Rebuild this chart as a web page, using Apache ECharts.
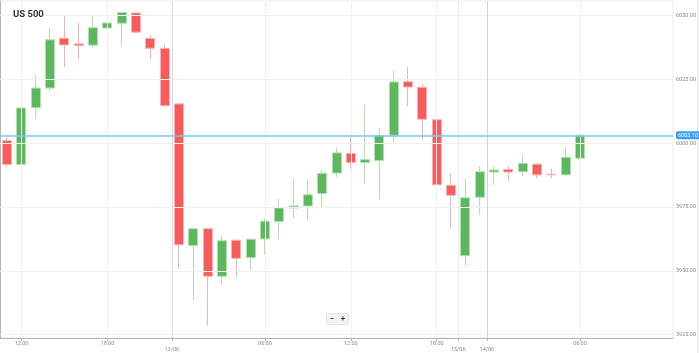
<!DOCTYPE html>
<html>
<head>
<meta charset="utf-8">
<script src="https://cdn.jsdelivr.net/npm/echarts@6/dist/echarts.min.js"></script>
<style>
    html, body { margin: 0; padding: 0; background: #fff; }
    #chart { width: 699px; height: 353px; }
</style>
</head>
<body>
<div id="chart"></div>
<script>
// hourly candles
const opens = [6001.0, 5991.7, 6013.9, 6021.6, 6041.1, 6038.9, 6038.4, 6045.1, 6047.0, 6051.0, 6041.0, 6037.1, 6015.4, 5959.9, 5966.5, 5947.9, 5962.0, 5955.2, 5962.5, 5969.3, 5974.6, 5975.4, 5980.3, 5988.3, 5996.0, 5992.4, 5993.2, 6003.1, 6024.1, 6021.9, 6009.2, 5983.5, 5955.9, 5978.8, 5988.7, 5989.7, 5988.8, 5991.8, 5987.8, 5987.6, 5994.1];
const closes = [5991.7, 6013.8, 6021.6, 6040.5, 6038.5, 6038.3, 6045.2, 6047.1, 6051.2, 6043.5, 6037.2, 6014.7, 5960.2, 5966.5, 5947.9, 5961.8, 5954.9, 5962.4, 5969.4, 5974.7, 5975.4, 5979.8, 5988.2, 5996.2, 5992.4, 5993.6, 6003.0, 6024.0, 6022.0, 6009.4, 5983.7, 5979.6, 5978.6, 5988.8, 5989.5, 5988.7, 5992.1, 5987.6, 5987.6, 5994.5, 6003.1];
const lows = [5990.6, 5991.4, 6009.5, 6020.3, 6029.8, 6033.1, 6037.6, 6038.3, 6037.9, 6043.3, 6033.1, 6014.5, 5950.9, 5938.7, 5928.5, 5944.8, 5947.7, 5950.4, 5956.5, 5962.4, 5970.6, 5969.5, 5975.0, 5986.8, 5990.1, 5984.1, 5978.0, 6000.7, 6014.5, 6001.4, 5967.6, 5966.9, 5952.0, 5971.9, 5983.7, 5985.0, 5987.1, 5986.3, 5986.3, 5987.5, 5993.6];
const highs = [6002.3, 6015.4, 6026.4, 6045.2, 6050.3, 6047.1, 6049.9, 6048.3, 6051.4, 6051.2, 6042.6, 6038.5, 6015.8, 5966.9, 5966.6, 5963.7, 5962.6, 5962.5, 5970.4, 5978.0, 5986.2, 5985.7, 5989.7, 5998.2, 6002.2, 6015.1, 6006.0, 6028.5, 6029.8, 6023.2, 6014.2, 5988.2, 5986.2, 5991.0, 5991.0, 5991.0, 5995.6, 5992.3, 5990.0, 5998.3, 6003.8];

const slotCount = 47;              // candle slots on the x axis (last ones empty)
const timeTickIndex = [1, 7, 18, 24, 30, 40];
const timeTickText = ['12:00', '18:00', '06:00', '12:00', '18:00', '06:00'];
const dayBreaks = [12, 32, 34];
const dayText = ['13/06', '15/06', '14/06'];
const priceTicks = [5925, 5950, 5975, 6000, 6025, 6050];
const lastPrice = 6003.10;

const candleData = opens.map((o, i) => [o, closes[i], lows[i], highs[i]]);
const slots = [];
for (let i = 0; i < slotCount; i++) slots.push(String(i));
// value-axis positions of the time ticks (slot centres)
const timePos = timeTickIndex.map(i => i + 0.5);

const chart = echarts.init(document.getElementById('chart'));

const option = {
    animation: false,
    title: {
        text: 'US 500',
        left: 8,
        top: 5,
        textStyle: { fontFamily: 'Roboto', fontSize: 9.5, fontWeight: 'bold', color: '#333' },
    },
    grid: {
        left: 0,
        right: 26,
        top: 1,
        bottom: 14,
        show: true,
        borderColor: '#ececec',
        borderWidth: 1,
    },
    xAxis: [
        {
            type: 'category',
            data: slots,
            boundaryGap: true,
            axisLine: { lineStyle: { color: '#b4b4b4' } },
            axisTick: { show: false },
            axisLabel: { show: false },
            splitLine: { show: false },
        },
        {
            type: 'value',
            min: 0,
            max: slotCount,
            position: 'bottom',
            axisLine: { show: false },
            axisTick: { show: true, customValues: timePos, length: 3, lineStyle: { color: '#b4b4b4' } },
            axisLabel: {
                customValues: timePos,
                formatter: v => timeTickText[timePos.indexOf(v)] || '',
                fontFamily: 'Roboto',
                fontSize: 5.5,
                color: '#8a8a8a',
                margin: 3,
            },
            splitLine: { show: false },
        },
        {
            type: 'value',
            min: 0,
            max: slotCount,
            position: 'bottom',
            axisLine: { show: false },
            axisTick: { show: true, customValues: dayBreaks, length: 3, lineStyle: { color: '#b4b4b4' } },
            axisLabel: {
                customValues: dayBreaks,
                formatter: v => dayText[dayBreaks.indexOf(v)] || '',
                fontFamily: 'Roboto',
                fontSize: 5.5,
                color: '#8a8a8a',
                margin: 9,
            },
            splitLine: { show: false },
        },
    ],
    yAxis: {
        type: 'value',
        position: 'right',
        min: 5923.7,
        max: 6055.7,
        scale: true,
        axisLine: { show: true, lineStyle: { color: '#b4b4b4' } },
        axisTick: { show: true, customValues: priceTicks, length: 3, lineStyle: { color: '#b4b4b4' } },
        axisLabel: {
            customValues: priceTicks,
            formatter: v => v.toFixed(2),
            fontFamily: 'Roboto',
            fontSize: 5.5,
            color: '#8a8a8a',
            margin: 3,
        },
        splitLine: { show: false },
    },
    series: [
        {
            // grid lines
            name: 'grid',
            type: 'line',
            xAxisIndex: 1,
            data: [],
            z: 0,
            markLine: {
                silent: true,
                symbol: ['none', 'none'],
                label: { show: false },
                lineStyle: { color: '#f0f0f0', width: 1, type: 'solid' },
                data: [
                    ...priceTicks.map(v => ({ yAxis: v })),
                    ...timePos.map(v => ({ xAxis: v })),
                    { xAxis: dayBreaks[0], lineStyle: { color: '#dcdcdc' } },
                    { xAxis: dayBreaks[1], lineStyle: { color: '#ececec' } },
                    { xAxis: dayBreaks[2], lineStyle: { color: '#d4d4d4' } },
                ],
            },
        },
        {
            name: 'US 500',
            type: 'candlestick',
            xAxisIndex: 0,
            barWidth: 9.5,
            data: candleData,
            itemStyle: {
                color: '#5cb85c',
                color0: '#f75b5b',
                borderColor: '#b3dfb3',
                borderColor0: '#fab1b1',
                borderWidth: 1,
            },
        },
        {
            // last price line
            name: 'last',
            type: 'line',
            xAxisIndex: 1,
            data: [],
            z: 5,
            markLine: {
                silent: true,
                symbol: ['none', 'none'],
                lineStyle: { color: '#7cc4f4', width: 1.5, type: 'solid' },
                label: {
                    position: 'end',
                    distance: 3,
                    formatter: lastPrice.toFixed(2),
                    fontFamily: 'Roboto',
                    fontSize: 5.5,
                    color: '#fff',
                    backgroundColor: '#3a9ff0',
                    padding: [1, 2],
                    borderRadius: 1.5,
                },
                data: [{ yAxis: lastPrice }],
            },
        },
    ],
    graphic: [
        {
            type: 'line',
            shape: { x1: 697.5, y1: 0, x2: 697.5, y2: 353 },
            style: { stroke: '#e6e6e6', lineWidth: 1 },
        },
        {
            type: 'group',
            left: 326,
            top: 313,
            children: [
                { type: 'rect', shape: { x: 0, y: 0, width: 22, height: 11, r: 1 }, style: { fill: '#f3f3f3', stroke: '#e2e2e2' } },
                { type: 'text', x: 5.5, y: 5.5, style: { text: '−', font: 'bold 8px Roboto', fill: '#333', align: 'center', verticalAlign: 'middle' } },
                { type: 'text', x: 16.5, y: 5.5, style: { text: '+', font: 'bold 8px Roboto', fill: '#333', align: 'center', verticalAlign: 'middle' } },
            ],
        },
    ],
};

chart.setOption(option);
</script>
</body>
</html>
